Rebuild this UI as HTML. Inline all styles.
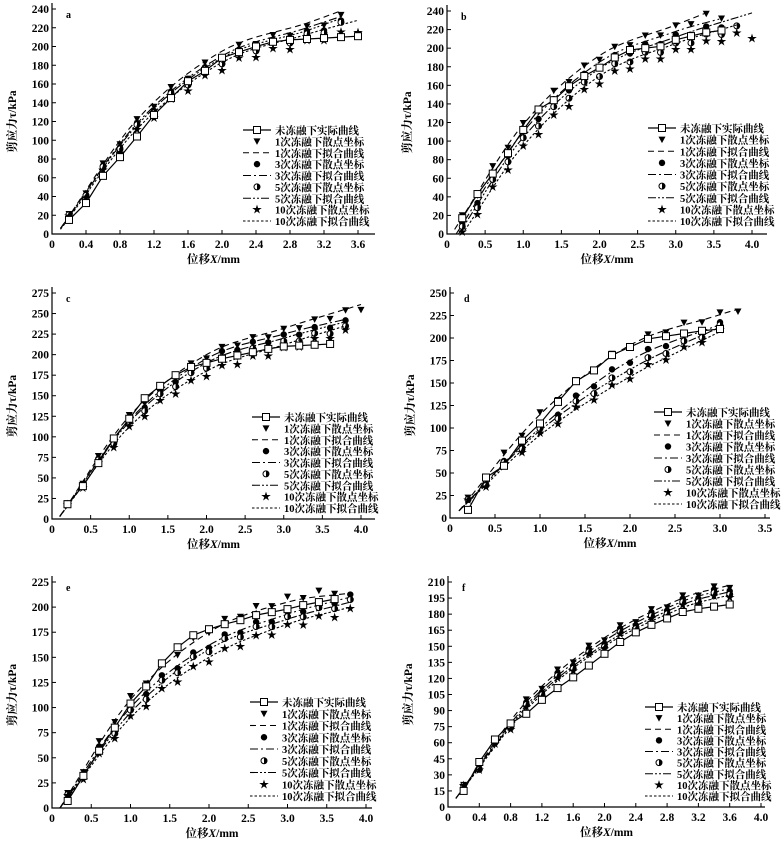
<!DOCTYPE html>
<html><head><meta charset="utf-8">
<style>
html,body{margin:0;padding:0;background:#fff;}
svg{display:block;}
text{font-family:"Liberation Serif","Noto Serif CJK SC",serif;fill:#000;}
</style></head>
<body>
<svg id="s" width="782" height="845" viewBox="0 0 782 845" xmlns="http://www.w3.org/2000/svg"></svg>
<script>
const S=document.getElementById('s');let out='';
function interp(P){const n=P.length,m=[];
 for(let i=0;i<n;i++){if(i==0)m.push((P[1][1]-P[0][1])/(P[1][0]-P[0][0]));else if(i==n-1)m.push((P[n-1][1]-P[n-2][1])/(P[n-1][0]-P[n-2][0]));else m.push((P[i+1][1]-P[i-1][1])/(P[i+1][0]-P[i-1][0]));}
 return x=>{let i=0;while(i<n-2&&x>P[i+1][0])i++;const h=P[i+1][0]-P[i][0],t=(x-P[i][0])/h;
  const h00=2*t*t*t-3*t*t+1,h10=t*t*t-2*t*t+t,h01=-2*t*t*t+3*t*t,h11=t*t*t-t*t;
  return h00*P[i][1]+h10*h*m[i]+h01*P[i+1][1]+h11*h*m[i+1];};}
const dashes=['6,4','8,3,2,3','8,2,2,2,2,2','2.5,2'];
function marker(type,x,y){
 if(type==0)return `<path d="M${x-3.5},${y-3} L${x+3.5},${y-3} L${x},${y+3.5}Z" fill="#000"/>`;
 if(type==1)return `<circle cx="${x}" cy="${y}" r="3.2" fill="#000"/>`;
 if(type==2)return `<circle cx="${x}" cy="${y}" r="3" fill="#fff" stroke="#000" stroke-width="1"/><path d="M${x},${y-3} A3,3 0 0 1 ${x},${y+3}Z" fill="#000"/>`;
 if(type==3)return `<text x="${x}" y="${y+3.5}" font-size="10" text-anchor="middle">★</text>`;
 if(type==4)return `<rect x="${x-3.5}" y="${y-3.5}" width="7" height="7" fill="#fff" stroke="#000" stroke-width="1"/>`;}
function panel(p){
 const X=v=>p.x0+(v)*(p.x1-p.x0)/p.xm, Y=v=>p.y0-v*(p.y0-p.y1)/p.ym;
 out+=`<path d="M${p.x0},${p.y1-6} L${p.x0},${p.y0} L${p.xe},${p.y0}" fill="none" stroke="#000" stroke-width="1.2"/>`;
 for(let v=0;v<=p.ym+1e-9;v+=p.ys){const y=Y(v);out+=`<line x1="${p.x0}" y1="${y}" x2="${p.x0+4}" y2="${y}" stroke="#000"/><text x="${p.x0-3}" y="${y+4}" font-size="11.5" font-weight="bold" text-anchor="end">${v}</text>`;}
 for(let v=0;v<=p.xm+1e-9;v+=p.xs){const x=X(v);out+=`<line x1="${x}" y1="${p.y0}" x2="${x}" y2="${p.y0-4}" stroke="#000"/><text x="${x}" y="${p.y0+14}" font-size="11.5" font-weight="bold" text-anchor="middle">${v<1e-9?'0':v.toFixed(1)}</text>`;}
 out+=`<text x="${(p.x0+p.xe)/2}" y="${p.y0+29}" font-size="11.5" font-weight="bold" text-anchor="middle">位移<tspan font-style="italic">X</tspan>/mm</text>`;
 const cy=(p.y0+p.y1)/2;
 out+=`<text transform="translate(${p.x0-36},${cy}) rotate(-90)" font-size="11.5" font-weight="bold" text-anchor="middle">剪应力τ/kPa</text>`;
 out+=`<text x="${p.x0+14}" y="${p.y1+9}" font-size="10" font-weight="bold">${p.L}</text>`;
 p.fits.forEach((P,i)=>{const fn=interp(P);let d='';const xa=P[0][0],xb=P[P.length-1][0];
  for(let x=xa;x<=xb+1e-6;x+=0.05){d+=(d?'L':'M')+X(x).toFixed(1)+','+Y(fn(x)).toFixed(1);}
  out+=`<path d="${d}" fill="none" stroke="#000" stroke-width="1.1" stroke-dasharray="${dashes[i]}"/>`;
  const sc=p.sc[i];for(let x=0.2;x<=sc[0]+1e-6;x+=0.2){const j=((Math.round(x*5))%2?1:-1)*2.5;const xx=Math.min(x,xb);const y=fn(xx)-sc[1]*x+j;out+=marker(i,X(x),Y(y));}
 });
 let d='';p.act.forEach((v,i)=>{const x=0.2*(i+1);d+=(d?'L':'M')+X(x).toFixed(1)+','+Y(v).toFixed(1);});
 out+=`<path d="${d}" fill="none" stroke="#000" stroke-width="1.2"/>`;
 p.act.forEach((v,i)=>{out+=marker(4,X(0.2*(i+1)),Y(v));});
 const labs=['未冻融下实际曲线','1次冻融下散点坐标','1次冻融下拟合曲线','3次冻融下散点坐标','3次冻融下拟合曲线','5次冻融下散点坐标','5次冻融下拟合曲线','10次冻融下散点坐标','10次冻融下拟合曲线'];
 const lx=p.lx,sp=(p.lb-p.lt)/8;
 labs.forEach((t,i)=>{const y=p.lt+i*sp;const mx=lx+14;
  if(i==0){out+=`<line x1="${lx}" y1="${y}" x2="${lx+28}" y2="${y}" stroke="#000" stroke-width="1.2"/>`+marker(4,mx,y);}
  else if(i%2==1){out+=marker((i-1)/2,mx,y);}
  else{out+=`<line x1="${lx}" y1="${y}" x2="${lx+28}" y2="${y}" stroke="#000" stroke-width="1.1" stroke-dasharray="${dashes[i/2-1]}"/>`;}
  out+=`<text x="${lx+32}" y="${y+4}" font-size="10.5" font-weight="bold">${t}</text>`;});
}
panel({L:'a',x0:52,x1:358,xm:3.6,xe:375,xs:0.4,y0:234,y1:9,ym:240,ys:20,lx:243,lt:130,lb:221,
 act:[15,33,62,82,104,127,145,163,174,188,194,200,205,207,208,209,210,211],
 fits:[[[0.1,6],[1,122],[2,195],[3,225],[3.4,238]],[[0.1,6],[1,118],[2,190],[3,220],[3.4,232]],[[0.1,6],[1,116],[2,188],[3,217],[3.4,230]],[[0.1,5],[1,112],[2,183],[3,213],[3.6,228]]],
 sc:[[3.4,2],[3.4,2],[3.4,2],[3.6,3]]});
panel({L:'b',x0:447,x1:752,xm:4.0,xe:767,xs:0.5,y0:234,y1:11,ym:240,ys:20,lx:648,lt:128,lb:221,
 act:[17,43,65,87,112,134,144,159,170,179,190,198,200,202,209,213,217,219],
 fits:[[[0.1,5],[1,118],[2,192],[3,225],[3.4,238]],[[0.12,0],[1,110],[2,185],[3,218],[3.6,232]],[[0.15,0],[1,104],[2,178],[3,212],[4,238]],[[0.2,0],[1,95],[2,170],[3,205],[3.8,225]]],
 sc:[[3.6,1],[3.6,2],[3.8,3],[4.0,3]]});
panel({L:'c',x0:52,x1:361,xm:4.0,xe:375,xs:0.5,y0:519,y1:293,ym:275,ys:25,lx:252,lt:417,lb:508,
 act:[18,40,68,98,122,147,162,175,185,190,195,199,203,207,210,211,212,213],
 fits:[[[0.1,3],[1,125],[2,200],[3,232],[4,261]],[[0.1,3],[1,120],[2,195],[3,225],[3.8,243]],[[0.1,3],[1,118],[2,190],[3,220],[3.8,240]],[[0.1,3],[1,112],[2,180],[3,212],[3.8,235]]],
 sc:[[4.0,1],[3.8,1],[3.8,2],[3.8,2]]});
panel({L:'d',x0:450,x1:765,xm:3.5,xe:770,xs:0.5,y0:518,y1:293,ym:250,ys:25,lx:654,lt:412,lb:504,
 act:[9,45,58,86,105,129,152,164,181,190,199,202,205,208,210],
 fits:[[[0.1,8],[1,115],[2,192],[3,226],[3.2,232]],[[0.1,8],[1,100],[2,175],[3,215]],[[0.1,8],[1,97],[2,165],[3,212]],[[0.1,8],[1,92],[2,157],[3,207]]],
 sc:[[3.2,0],[3.0,0],[3.0,0],[3.0,0]]});
panel({L:'e',x0:52,x1:366,xm:4.0,xe:372,xs:0.5,y0:808,y1:582,ym:225,ys:25,lx:250,lt:702,lb:796,
 act:[7,32,57,80,104,121,144,160,172,178,183,187,192,195,198,202,205,208],
 fits:[[[0.1,0],[1,108],[2,175],[3,205],[3.8,214]],[[0.1,0],[1,100],[2,162],[3,193],[3.8,210]],[[0.1,0],[1,95],[2,158],[3,188],[3.8,205]],[[0.1,0],[1,90],[2,150],[3,183],[3.8,200]]],
 sc:[[3.6,-1],[3.8,0],[3.8,0],[3.8,1]]});
panel({L:'f',x0:448,x1:761,xm:4.0,xe:765,xs:0.4,y0:807,y1:582,ym:210,ys:15,lx:645,lt:707,lb:796,
 act:[15,42,63,78,87,100,111,121,132,143,154,163,170,176,182,185,187,189],
 fits:[[[0.1,8],[1,98],[2,158],[3,195],[3.6,207]],[[0.1,8],[1,95],[2,155],[3,192],[3.6,204]],[[0.1,8],[1,93],[2,152],[3,189],[3.6,201]],[[0.1,8],[1,91],[2,150],[3,186],[3.6,198]]],
 sc:[[3.6,0],[3.6,0],[3.6,0],[3.6,0]]});
S.innerHTML=out;
</script>
</body></html>
